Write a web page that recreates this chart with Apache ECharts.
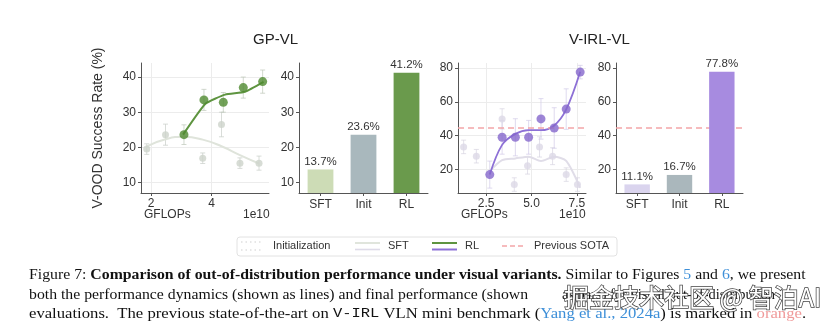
<!DOCTYPE html>
<html>
<head>
<meta charset="utf-8">
<script src="https://cdn.jsdelivr.net/npm/echarts@6/dist/echarts.min.js"></script>
<style>
html,body{margin:0;padding:0;background:#fff;}
#c{width:837px;height:323px;}
</style>
</head>
<body>
<div id="c"></div>
<script>
// ---------- DATA ----------
// GP-VL dynamics (x in 1e10 GFLOPs)
const gpSftX = [1.86, 2.48, 3.71, 4.33, 4.94, 5.57];
const gpSftY = [19.5, 23.6, 16.9, 26.5, 15.5, 15.5];
const gpSftErr = [1.5, 3.0, 1.5, 3.5, 1.5, 2.0];
const gpSftFitX = [1.86, 2.48, 3.09, 3.71, 4.33, 4.94, 5.57];
const gpSftFitY = [20.3, 22.3, 23.0, 22.2, 20.3, 17.8, 15.4];
const gpRlX = [3.09, 3.75, 4.39, 5.05, 5.69];
const gpRlY = [23.6, 33.5, 32.8, 37.0, 38.7];
const gpRlErr = [2.8, 3.0, 2.8, 3.0, 3.3];
const gpRlFitX = [3.06, 3.80, 4.45, 5.11, 5.72];
const gpRlFitY = [23.6, 32.4, 35.0, 35.8, 38.6];
// V-IRL-VL dynamics
const vSftX = [1.26, 1.96, 3.38, 4.05, 4.78, 5.44, 6.16, 6.91, 7.53];
const vSftY = [33.3, 27.8, 49.9, 11.0, 22.2, 33.3, 27.8, 16.9, 11.0];
const vSftErr = [4, 4, 6, 4, 5, 6, 5, 4, 4];
const vSftFitX = [2.70, 3.38, 4.11, 4.84, 5.52, 6.25, 6.91, 7.68];
const vSftFitY = [19.0, 25.5, 26.5, 27.5, 25.0, 27.5, 25.0, 9.0];
const vRlX = [2.70, 3.38, 4.11, 4.84, 5.52, 6.25, 6.91, 7.68];
const vRlY = [16.9, 39.0, 39.0, 39.0, 49.9, 44.5, 55.7, 77.6];
const vRlErr = [8, 10, 11, 10, 12, 12, 12, 4];
const vRlFitY = [17.0, 34.5, 41.0, 43.2, 43.2, 46.0, 55.5, 77.8];
const prevSota = 44.5;
// Final performance bars
const barCats = ['SFT', 'Init', 'RL'];
const gpBars = [13.7, 23.6, 41.2];
const vBars = [11.1, 16.7, 77.8];
// Ticks
const gpXTicks = [2, 4];
const gpYTicks = [10, 20, 30, 40];
const vXTicks = [2.5, 5.0, 7.5];
const vYTicks = [20, 40, 60, 80];

// ---------- CHART ----------
const pair = (xs, ys) => xs.map((x, i) => [x, ys[i]]);
const triple = (xs, ys, es) => xs.map((x, i) => [x, ys[i], es[i]]);
const SANS = 'Liberation Sans, Arial, sans-serif';
const SERIF = 'Liberation Serif, Times New Roman, serif';
const axisCol = '#555';
const txtCol = '#333';

function errSeries(xi, yi, data, color) {
  return {
    type: 'custom', xAxisIndex: xi, yAxisIndex: yi, z: 1, silent: true,
    data: data,
    renderItem: function (params, api) {
      const x = api.value(0), y = api.value(1), e = api.value(2);
      const lo = api.coord([x, y - e]), hi = api.coord([x, y + e]);
      const w = 2.5;
      const st = { stroke: color, lineWidth: 1 };
      return { type: 'group', children: [
        { type: 'line', shape: { x1: lo[0], y1: lo[1], x2: hi[0], y2: hi[1] }, style: st },
        { type: 'line', shape: { x1: lo[0] - w, y1: lo[1], x2: lo[0] + w, y2: lo[1] }, style: st },
        { type: 'line', shape: { x1: hi[0] - w, y1: hi[1], x2: hi[0] + w, y2: hi[1] }, style: st }
      ] };
    }
  };
}

function valX(gi, min, max, ticks, fmt) {
  return {
    type: 'value', gridIndex: gi, min: min, max: max,
    axisLine: { show: true, lineStyle: { color: axisCol, width: 1 } },
    axisTick: { show: true, length: 3, customValues: ticks, lineStyle: { color: axisCol } },
    axisLabel: { customValues: ticks, color: txtCol, fontSize: 12, fontFamily: SANS, margin: 5, formatter: fmt },
    splitLine: { show: true, lineStyle: { color: '#ececec', width: 1 } }
  };
}
function valY(gi, min, max, ticks, grid) {
  return {
    type: 'value', gridIndex: gi, min: min, max: max,
    axisLine: { show: true, lineStyle: { color: axisCol, width: 1 } },
    axisTick: { show: true, length: 3, customValues: ticks, lineStyle: { color: axisCol } },
    axisLabel: { customValues: ticks, color: txtCol, fontSize: 12, fontFamily: SANS, margin: 5 },
    splitLine: { show: grid, lineStyle: { color: '#ececec', width: 1 } }
  };
}
function catX(gi) {
  return {
    type: 'category', gridIndex: gi, data: barCats,
    axisLine: { show: true, lineStyle: { color: axisCol, width: 1 } },
    axisTick: { show: true, length: 3, alignWithLabel: true, lineStyle: { color: axisCol } },
    axisLabel: { color: txtCol, fontSize: 12, fontFamily: SANS, margin: 6 },
    splitLine: { show: false }
  };
}

const gpBarColors = ['#cddcb6', '#a9b8bd', '#6a9a4c'];
const vBarColors = ['#dad4ee', '#aab7bc', '#a78be0'];

const option = {
  backgroundColor: '#fff',
  animation: false,
  grid: [
    { left: 141, top: 63, width: 128, height: 130 },
    { left: 299, top: 63, width: 129, height: 130 },
    { left: 458, top: 63, width: 128, height: 130 },
    { left: 616, top: 63, width: 127, height: 130 }
  ],
  xAxis: [
    valX(0, 1.67, 5.9, gpXTicks, v => String(v)),
    catX(1),
    valX(2, 0.95, 8.0, vXTicks, v => v.toFixed(1)),
    catX(3)
  ],
  yAxis: [
    Object.assign(valY(0, 7, 44, gpYTicks, true), {
      name: 'V-OOD Success Rate (%)', nameLocation: 'middle', nameGap: 36,
      nameTextStyle: { fontSize: 14, color: '#333', fontFamily: SANS }
    }),
    valY(1, 7, 44, gpYTicks, false),
    valY(2, 6, 83, vYTicks, true),
    valY(3, 6, 83, vYTicks, false)
  ],
  series: [
    // GP-VL line panel
    errSeries(0, 0, triple(gpSftX, gpSftY, gpSftErr), 'rgba(200,205,200,0.7)'),
    errSeries(0, 0, triple(gpRlX, gpRlY, gpRlErr), 'rgba(190,200,185,0.7)'),
    { type: 'line', xAxisIndex: 0, yAxisIndex: 0, data: pair(gpSftFitX, gpSftFitY), smooth: 0.5,
      symbol: 'none', lineStyle: { color: '#dfe4db', width: 2 }, z: 2 },
    { type: 'scatter', xAxisIndex: 0, yAxisIndex: 0, data: pair(gpSftX, gpSftY), symbolSize: 7,
      itemStyle: { color: '#cdd3cb' }, z: 3 },
    { type: 'line', xAxisIndex: 0, yAxisIndex: 0, data: pair(gpRlFitX, gpRlFitY), smooth: 0.15,
      symbol: 'none', lineStyle: { color: '#5e9440', width: 2 }, z: 4 },
    { type: 'scatter', xAxisIndex: 0, yAxisIndex: 0, data: pair(gpRlX, gpRlY), symbolSize: 9,
      itemStyle: { color: '#4f8a30' }, z: 5 },
    // GP-VL bars
    { type: 'bar', xAxisIndex: 1, yAxisIndex: 1, barWidth: '60%',
      data: gpBars.map((v, i) => ({ value: v, itemStyle: { color: gpBarColors[i] } })),
      label: { show: true, position: 'top', distance: 2, formatter: p => p.value.toFixed(1) + '%',
        color: txtCol, fontSize: 11.5, fontFamily: SANS } },
    // V-IRL line panel
    errSeries(2, 2, triple(vSftX, vSftY, vSftErr), 'rgba(215,212,225,0.7)'),
    errSeries(2, 2, triple(vRlX, vRlY, vRlErr), 'rgba(210,202,232,0.7)'),
    { type: 'line', xAxisIndex: 2, yAxisIndex: 2, data: pair(vSftFitX, vSftFitY), smooth: 0.25,
      symbol: 'none', lineStyle: { color: '#e0dde8', width: 2 }, z: 2 },
    { type: 'scatter', xAxisIndex: 2, yAxisIndex: 2, data: pair(vSftX, vSftY), symbolSize: 7,
      itemStyle: { color: '#dcd8e6' }, z: 3,
      markLine: { silent: true, symbol: 'none', label: { show: false },
        lineStyle: { color: '#f3a5a8', type: [6, 4], width: 1.5 }, data: [{ yAxis: prevSota }] } },
    { type: 'line', xAxisIndex: 2, yAxisIndex: 2, data: pair(vRlX, vRlFitY), smooth: 0.35,
      symbol: 'none', lineStyle: { color: '#8d70d6', width: 1.8 }, z: 4 },
    { type: 'scatter', xAxisIndex: 2, yAxisIndex: 2, data: pair(vRlX, vRlY), symbolSize: 9,
      itemStyle: { color: '#8466cc' }, z: 5 },
    // V-IRL bars
    { type: 'bar', xAxisIndex: 3, yAxisIndex: 3, barWidth: '60%',
      data: vBars.map((v, i) => ({ value: v, itemStyle: { color: vBarColors[i] } })),
      label: { show: true, position: 'top', distance: 2, formatter: p => p.value.toFixed(1) + '%',
        color: txtCol, fontSize: 11.5, fontFamily: SANS },
      markLine: { silent: true, symbol: 'none', label: { show: false }, z: 1,
        lineStyle: { color: '#f3a5a8', type: [6, 4], width: 1.5 }, data: [{ yAxis: prevSota }] } }
  ],
  graphic: [
    { type: 'text', left: 253, top: 32, style: { text: 'GP-VL', font: '15px ' + SANS, fill: '#222' } },
    { type: 'text', left: 569, top: 32, style: { text: 'V-IRL-VL', font: '15px ' + SANS, fill: '#222' } },
    { type: 'text', left: 144, top: 209, style: { text: 'GFLOPs', font: '12px ' + SANS, fill: txtCol } },
    { type: 'text', left: 243, top: 209, style: { text: '1e10', font: '12px ' + SANS, fill: txtCol } },
    { type: 'text', left: 461, top: 209, style: { text: 'GFLOPs', font: '12px ' + SANS, fill: txtCol } },
    { type: 'text', left: 559, top: 209, style: { text: '1e10', font: '12px ' + SANS, fill: txtCol } },
    // legend
    { type: 'rect', shape: { x: 237, y: 237, width: 380, height: 19, r: 3 },
      style: { fill: '#fff', stroke: '#e2e2e2', lineWidth: 1 } },
    { type: 'line', shape: { x1: 241, y1: 242, x2: 261, y2: 242 }, style: { stroke: '#d0d0d0', lineWidth: 1.2, lineDash: [1.5, 3] } },
    { type: 'line', shape: { x1: 241, y1: 250, x2: 261, y2: 250 }, style: { stroke: '#d0d0d0', lineWidth: 1.2, lineDash: [1.5, 3] } },
    { type: 'text', x: 273, y: 246, style: { text: 'Initialization', font: '11px ' + SANS, fill: txtCol, verticalAlign: 'middle' } },
    { type: 'line', shape: { x1: 355, y1: 243, x2: 380, y2: 243 }, style: { stroke: '#d9dfd4', lineWidth: 1.6 } },
    { type: 'line', shape: { x1: 355, y1: 249.5, x2: 380, y2: 249.5 }, style: { stroke: '#dedbe8', lineWidth: 1.6 } },
    { type: 'text', x: 388, y: 246, style: { text: 'SFT', font: '11px ' + SANS, fill: txtCol, verticalAlign: 'middle' } },
    { type: 'line', shape: { x1: 432, y1: 243, x2: 457, y2: 243 }, style: { stroke: '#5e9440', lineWidth: 2 } },
    { type: 'line', shape: { x1: 432, y1: 249.5, x2: 457, y2: 249.5 }, style: { stroke: '#8d70d6', lineWidth: 2 } },
    { type: 'text', x: 465, y: 246, style: { text: 'RL', font: '11px ' + SANS, fill: txtCol, verticalAlign: 'middle' } },
    { type: 'line', shape: { x1: 502, y1: 246, x2: 523, y2: 246 }, style: { stroke: '#f3a5a8', lineWidth: 1.3, lineDash: [5, 3] } },
    { type: 'text', x: 534, y: 246, style: { text: 'Previous SOTA', font: '11px ' + SANS, fill: txtCol, verticalAlign: 'middle' } },
    // caption
    { type: 'text', x: 29, y: 275, scaleX: 1.127, style: {
      text: '{n|Figure 7: }{b|Comparison of out-of-distribution performance under visual variants.}{n| Similar to Figures }{l|5}{n| and }{l|6}{n|, we present}',
      verticalAlign: 'middle',
      rich: {
        n: { font: '14px ' + SERIF, fill: '#111' },
        b: { font: 'bold 14px ' + SERIF, fill: '#111' },
        l: { font: '14px ' + SERIF, fill: '#3d8fd8' }
      } } },
    { type: 'text', x: 29, y: 295, scaleX: 1.126, style: {
      text: 'both the performance dynamics (shown as lines) and final performance (shown',
      verticalAlign: 'middle', font: '14px ' + SERIF, fill: '#111' } },
    { type: 'text', x: 562, y: 295, scaleX: 1.03, style: {
      text: 'as bars) for visual out-of-distribution',
      verticalAlign: 'middle', font: '14px ' + SERIF, fill: '#111' } },
    { type: 'text', x: 29, y: 314, scaleX: 1.19, style: {
      text: '{n|evaluations.  The previous state-of-the-art on }{m|V-IRL}{n| VLN mini benchmark (}{l|Yang et al., 2024a}{n|) is marked in }{o|orange}{n|.}',
      verticalAlign: 'middle',
      rich: {
        n: { font: '14px ' + SERIF, fill: '#111' },
        m: { font: '13px Liberation Mono, monospace', fill: '#111' },
        l: { font: '14px ' + SERIF, fill: '#3d8fd8' },
        o: { font: '14px ' + SERIF, fill: '#f09a9a' }
      } } },
    { type: 'text', x: 564, y: 297, z: 100, style: {
      text: '掘金技术社区 @ 智泊AI', verticalAlign: 'middle',
      font: '25px Noto Sans CJK SC, sans-serif', fill: '#fff', stroke: '#444', lineWidth: 1.5 } }
  ]
};

const chart = echarts.init(document.getElementById('c'), null, { renderer: 'canvas' });
chart.setOption(option);
</script>
</body>
</html>
